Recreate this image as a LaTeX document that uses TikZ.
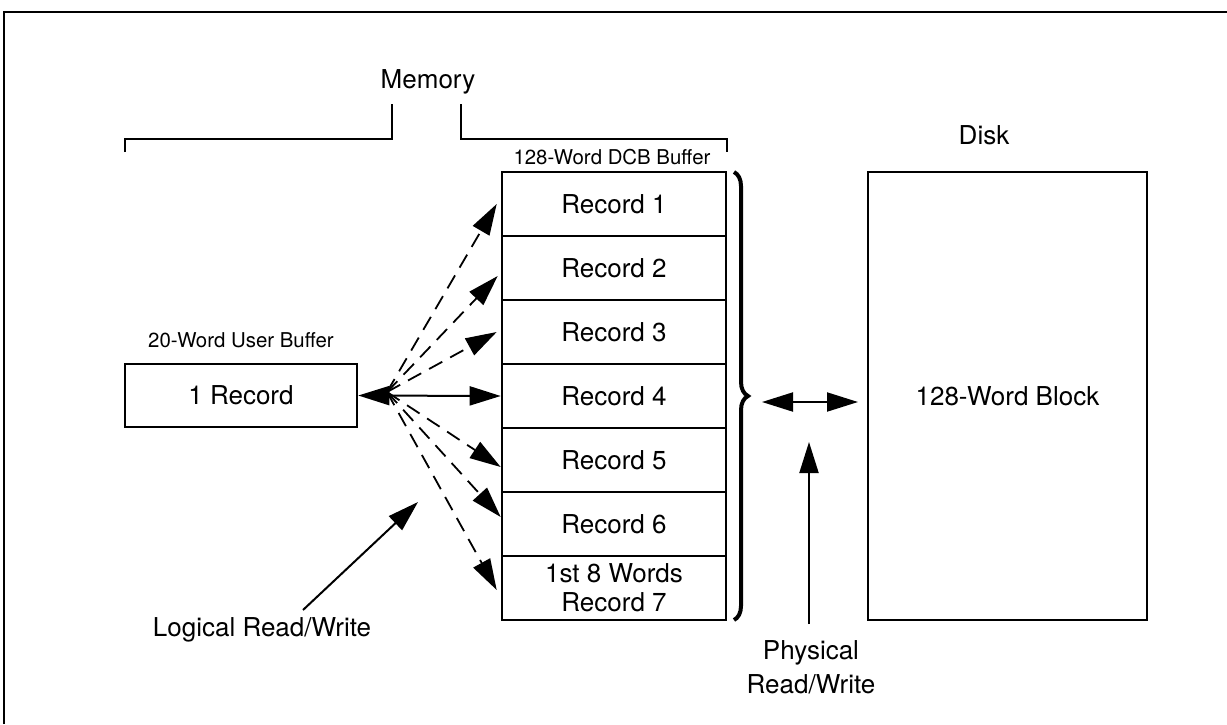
\documentclass[tikz,border=0pt]{standalone}
\usepackage{fontspec}
\setmainfont{TeX Gyre Heros}
\usetikzlibrary{arrows.meta,decorations.pathreplacing,calc}

\begin{document}
\begin{tikzpicture}[x=0.5pt,y=-0.5pt,
  >={Triangle[length=15.5pt,width=9.5pt]},
  big/.style={font=\fontsize{13}{14.5}\selectfont},
  small/.style={font=\fontsize{10.2}{12}\selectfont},
  label/.style={inner sep=0pt},
  cell/.style={draw, line width=1.3pt, minimum width=112pt, minimum height=32pt,
               inner sep=0pt, big, align=center},
  box/.style={draw, line width=1.3pt, inner sep=0pt, big, align=center},
  bracketline/.style={line width=1.3pt},
  solidarrow/.style={line width=1pt, ->},
  dasharrow/.style={line width=0.9pt, dash pattern=on 7.5pt off 4.5pt, ->},
  twoway/.style={line width=1pt, <->},
]
\useasboundingbox (0,0) rectangle (1227,724);

% outer frame (top and left edges)
\draw[line width=1.4pt] (4,724) -- (4,12) -- (1227,12);

% memory heading and its two brackets
\node[big, label, anchor=base] (mem) at (428,88) {Memory};
\draw[bracketline] (125,152) -- (125,139) -- (392,139) -- (392,104);
\draw[bracketline] (461,104) -- (461,139) -- (727,139) -- (727,152);

% DCB buffer
\node[small, label, anchor=base] (dcblab) at (612,164) {128-Word DCB Buffer};
\node[cell] (r1) at (614,204) {Record 1};
\node[cell] (r2) at (614,268) {Record 2};
\node[cell] (r3) at (614,332) {Record 3};
\node[cell] (r4) at (614,396) {Record 4};
\node[cell] (r5) at (614,460) {Record 5};
\node[cell] (r6) at (614,524) {Record 6};
\node[cell] (r7) at (614,588) {1st 8 Words\\[-0.2pt]Record 7};

% brace spanning the DCB buffer
\draw[line width=2pt, decorate, decoration={brace, amplitude=7pt}] (734,172) -- (734,620);

% user buffer
\node[small, label, anchor=base] (userlab) at (241,347) {20-Word User Buffer};
\node[box, minimum width=116pt, minimum height=31.5pt] (user) at (241,395.5) {1 Record};

% disk
\node[big, label, anchor=base] (disklab) at (984,144) {Disk};
\node[box, minimum width=139.5pt, minimum height=224pt] (disk) at (1007.5,396) {128-Word Block};

% logical transfers between user buffer and DCB records
\coordinate (fan) at (387,392);
\draw[twoway] (user.east) -- (r4.west);
\draw[dasharrow] (fan) -- ($(r1.west)+(-4,0)$);
\draw[dasharrow] (fan) -- ($(r2.west)+(-3,8)$);
\draw[dasharrow] (fan) -- ($(r3.west)+(-4,0)$);
\draw[dasharrow] (fan) -- ($(r5.west)+(0,7)$);
\draw[dasharrow] (fan) -- ($(r6.west)+(0,-7)$);
\draw[dasharrow] (fan) -- ($(r7.west)+(-4,2)$);

\node[big, label, anchor=base] (logical) at (262,636) {Logical Read/Write};
\coordinate (lstart) at (303,610);
\coordinate (ltip) at (418,502);
\draw[solidarrow] (lstart) -- (ltip);

% physical transfer between DCB buffer and disk
\coordinate (pl) at (762,402);
\coordinate (pr) at (858,402);
\draw[twoway] (pl) -- (pr);
\node[big, label, anchor=base] (phys1) at (811,659) {Physical};
\node[big, label, anchor=base] (phys2) at (811,693) {Read/Write};
\coordinate (pbase) at (809,624);
\coordinate (ptip) at (809,442);
\draw[solidarrow] (pbase) -- (ptip);
\end{tikzpicture}
\end{document}
